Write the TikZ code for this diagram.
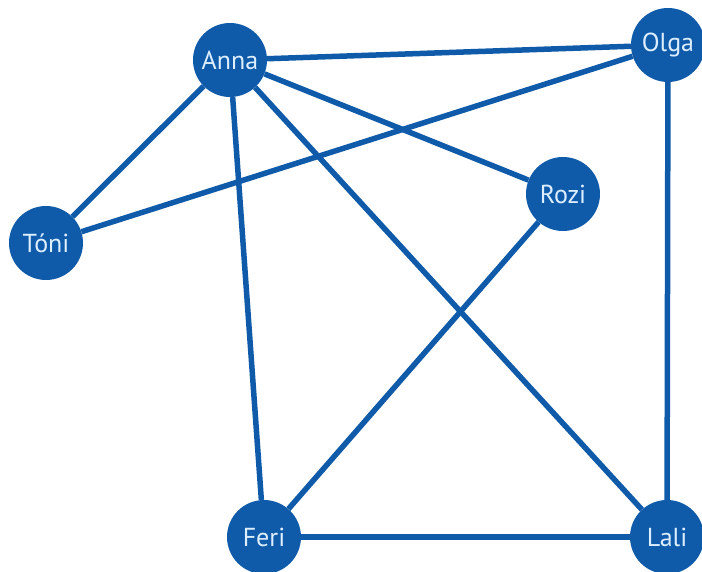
\documentclass[tikz,border=0pt]{standalone}
\usepackage{fontspec}
\setmainfont{PT Sans}
\definecolor{nodeblue}{HTML}{0F5BAA}
\definecolor{textblue}{HTML}{DDEEFF}
\begin{document}
\begin{tikzpicture}[x=1pt,y=-1pt,
  person/.style={circle,fill=nodeblue,minimum size=74pt,inner sep=0pt,text=textblue,font=\fontsize{26}{26}\selectfont},
  edge/.style={draw=nodeblue,line width=5.5pt}]
\useasboundingbox (0,0) rectangle (702,571);
\node[person] (anna) at (230,60) {Anna};
\node[person] (olga) at (668,45) {Olga};
\node[person] (toni) at (46,243) {Tóni};
\node[person] (rozi) at (563,194) {Rozi};
\node[person] (feri) at (264,537) {Feri};
\node[person] (lali) at (667,537) {Lali};
\path[edge] (anna) -- (olga);
\path[edge] (anna) -- (toni);
\path[edge] (anna) -- (rozi);
\path[edge] (anna) -- (feri);
\path[edge] (anna) -- (lali);
\path[edge] (toni) -- (olga);
\path[edge] (olga) -- (lali);
\path[edge] (rozi) -- (feri);
\path[edge] (feri) -- (lali);
\end{tikzpicture}
\end{document}
